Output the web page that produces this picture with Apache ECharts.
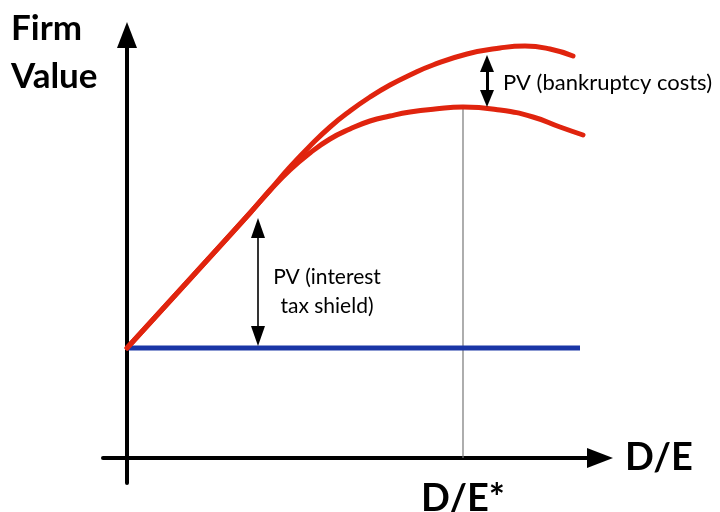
<!DOCTYPE html>
<html>
<head>
<meta charset="utf-8">
<script src="https://cdn.jsdelivr.net/npm/echarts@6/dist/echarts.min.js"></script>
<style>html,body{margin:0;padding:0;background:#fff}#c{width:720px;height:512px}</style>
</head>
<body>
<div id="c"></div>
<script>
// D/E (x) and Firm Value (y), arbitrary units
const noDebtX = [0, 4.53];
const noDebtY = [1.10, 1.10];
const taxX = [0, 0.63, 1.23, 1.43, 1.63, 1.83, 2.03, 2.23, 2.43, 2.63, 2.83, 3.06, 3.40, 3.73, 3.98, 4.23, 4.46];
const taxY = [1.10, 1.79, 2.45, 2.68, 2.91, 3.12, 3.31, 3.47, 3.61, 3.73, 3.83, 3.93, 4.04, 4.10, 4.12, 4.09, 4.02];
const leveredX = [0, 0.63, 1.23, 1.43, 1.63, 1.83, 2.03, 2.23, 2.43, 2.63, 2.83, 3.08, 3.36, 3.73, 4.06, 4.33, 4.56];
const leveredY = [1.10, 1.79, 2.45, 2.675, 2.88, 3.05, 3.19, 3.29, 3.37, 3.42, 3.46, 3.49, 3.51, 3.48, 3.41, 3.31, 3.23];
const optimalX = 3.36;
const optimalY = 3.51;
const tickLabels = ['D/E*'];
const shieldArrow = {x: 1.31, from: 1.22, to: 2.30};
const bankArrow = {x: 3.60, from: 3.595, to: 3.945};

const zip = (xs, ys) => xs.map((x, i) => [x, ys[i]]);
const red = '#e0240e';
const blue = '#1a36a6';
const font = 'Lato';

const chart = echarts.init(document.getElementById('c'));
chart.setOption({
  animation: false,
  grid: {left: 103, right: 120, top: 35, bottom: 29, outerBoundsMode: 'none', containLabel: false},
  xAxis: {
    type: 'value', min: -0.24, max: 4.73,
    name: 'D/E', nameLocation: 'end', nameGap: 25,
    nameTextStyle: {fontFamily: font, fontSize: 38, fontWeight: 'bold', color: '#000', verticalAlign: 'middle'},
    axisLine: {onZero: true, symbol: ['none', 'triangle'], symbolSize: [20, 26], lineStyle: {color: '#000', width: 4}},
    axisTick: {show: false},
    splitLine: {show: false},
    axisLabel: {
      customValues: [optimalX],
      formatter: () => tickLabels[0],
      fontFamily: font, fontSize: 38, fontWeight: 'bold', color: '#000', margin: -3
    }
  },
  yAxis: {
    type: 'value', min: -0.25, max: 4.23,
    axisLine: {onZero: true, symbol: ['none', 'triangle'], symbolSize: [20, 26], lineStyle: {color: '#000', width: 4}},
    axisTick: {show: false},
    splitLine: {show: false},
    axisLabel: {show: false}
  },
  graphic: [
    {type: 'text', left: 11, top: 5, style: {text: 'Firm\nValue', fontFamily: font, fontSize: 35, fontWeight: 'bold', lineHeight: 48, fill: '#000'}},
    {type: 'text', x: 327, y: 292, style: {text: 'PV (interest\ntax shield)', fontFamily: font, fontSize: 21, lineHeight: 29, fill: '#000', align: 'center', verticalAlign: 'middle'}},
    {type: 'text', x: 503, y: 83, style: {text: 'PV (bankruptcy costs)', fontFamily: font, fontSize: 22, fill: '#000', align: 'left', verticalAlign: 'middle'}}
  ],
  series: [
    {type: 'line', data: zip(noDebtX, noDebtY), symbol: 'none', lineStyle: {color: blue, width: 5}, z: 3},
    {type: 'line', data: [[optimalX, 0], [optimalX, optimalY]], symbol: 'none', lineStyle: {color: '#777', width: 1.2}, z: 2,
      markLine: {
        silent: true, symbol: ['triangle', 'triangle'], symbolSize: [14, 20], label: {show: false},
        lineStyle: {color: '#000', width: 1.6, type: 'solid'},
        data: [
          [{coord: [shieldArrow.x, shieldArrow.from]}, {coord: [shieldArrow.x, shieldArrow.to]}]
        ]
      }
    },
    {type: 'line', data: zip(taxX, taxY), smooth: 0.5, symbol: 'none', lineStyle: {color: red, width: 5, cap: 'round'}, z: 4,
      markLine: {
        silent: true, symbol: ['triangle', 'triangle'], symbolSize: [14, 17], label: {show: false},
        lineStyle: {color: '#000', width: 3, type: 'solid'},
        data: [
          [{coord: [bankArrow.x, bankArrow.from]}, {coord: [bankArrow.x, bankArrow.to]}]
        ]
      }
    },
    {type: 'line', data: zip(leveredX, leveredY), smooth: 0.5, symbol: 'none', lineStyle: {color: red, width: 5, cap: 'round'}, z: 4}
  ]
});
</script>
</body>
</html>
